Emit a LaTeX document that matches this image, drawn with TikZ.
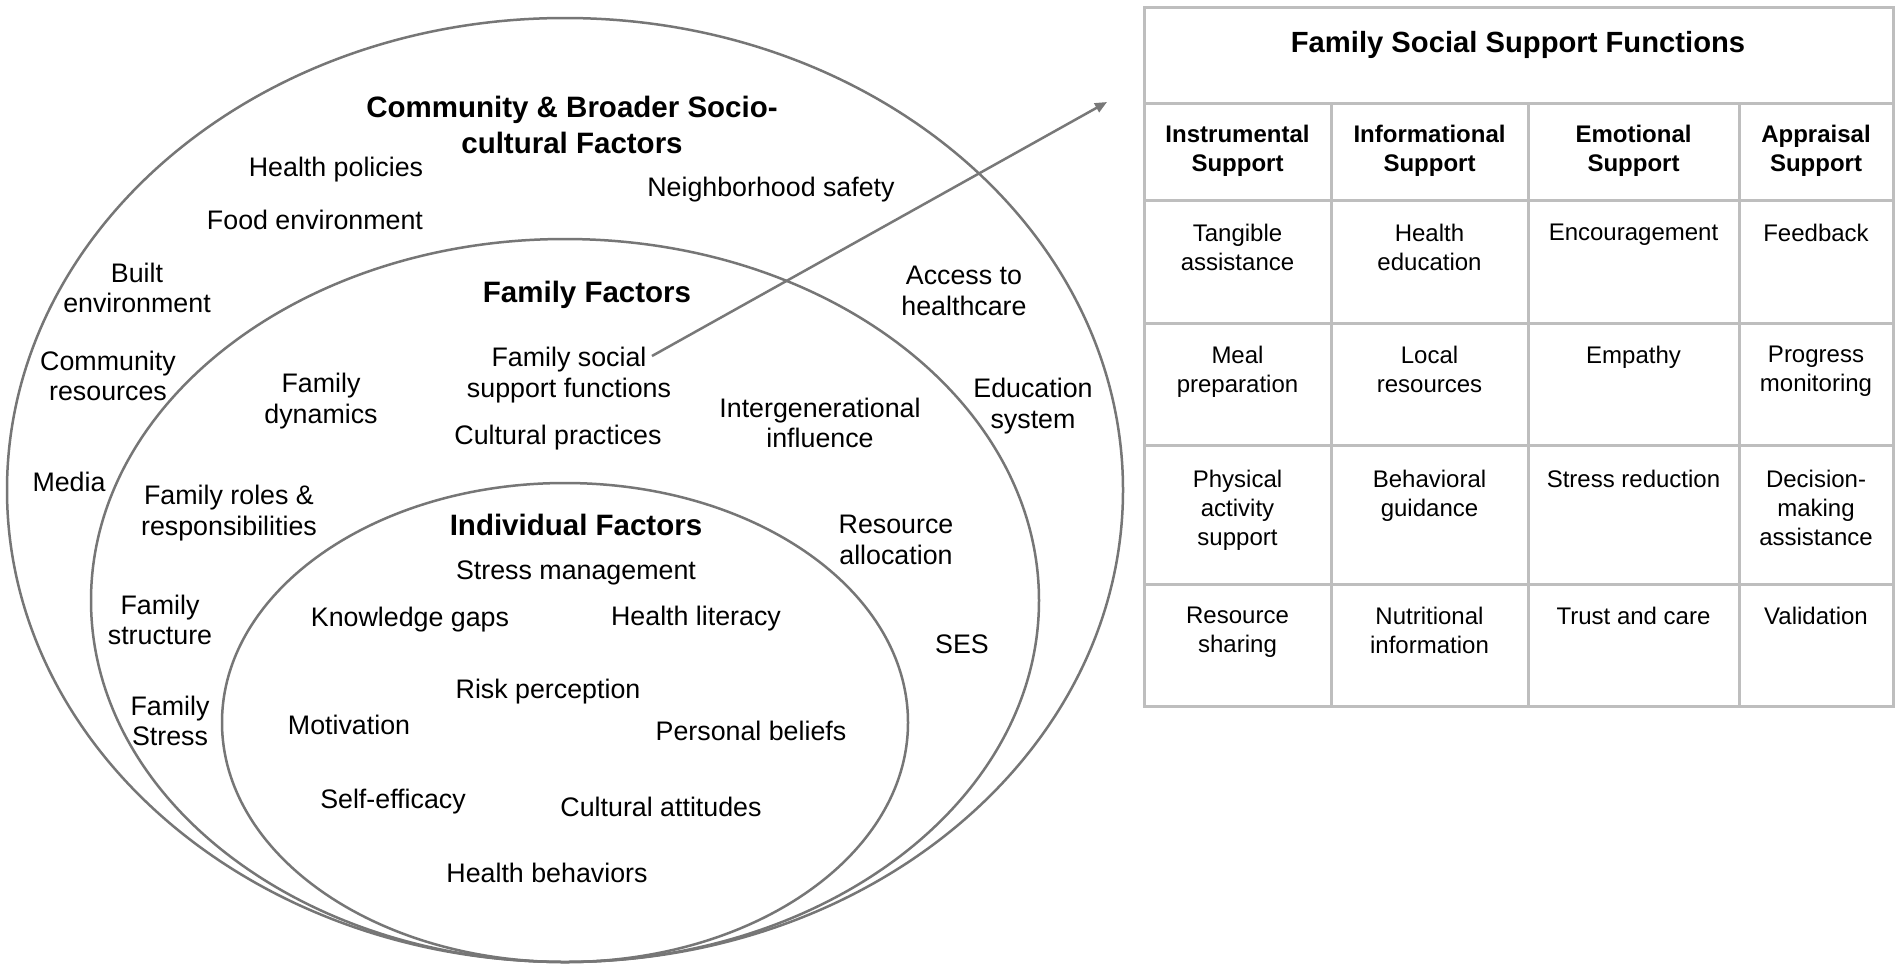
\documentclass[tikz,border=0pt]{standalone}
\usepackage{fontspec}
\setmainfont{Liberation Sans}
\usetikzlibrary{arrows.meta}
\definecolor{ringgray}{RGB}{118,118,118}
\definecolor{gridgray}{RGB}{190,190,190}
\definecolor{arrowgray}{RGB}{120,120,120}
\tikzset{
  lbl/.style={font=\fontsize{13.4}{15.3}\selectfont, align=center, inner sep=0pt},
  ttl/.style={font=\fontsize{14.75}{18}\selectfont\bfseries, align=center, inner sep=0pt},
  tabttl/.style={font=\fontsize{14.6}{18}\selectfont\bfseries, align=center, inner sep=0pt},
  hdr/.style={font=\fontsize{12}{14.5}\selectfont\bfseries, align=center, inner sep=0pt},
  cell/.style={font=\fontsize{12}{14.5}\selectfont, align=center, inner sep=0pt, anchor=north},
  ring/.style={draw=ringgray, line width=1.25pt},
  gridline/.style={draw=gridgray, line width=1.5pt},
  link/.style={draw=arrowgray, line width=1.25pt, -{Triangle[length=6pt,width=5pt]}}
}
\begin{document}
\begin{tikzpicture}[x=0.5pt,y=-0.5pt]
\useasboundingbox (0,0) rectangle (1902,971);
\fill[white] (0,0) rectangle (1902,971);

% rings
\draw[ring] (565,490) ellipse [x radius=279pt, y radius=236pt];
\draw[ring] (565,600.5) ellipse [x radius=237pt, y radius=180.75pt];
\draw[ring] (565,722.5) ellipse [x radius=171.5pt, y radius=119.75pt];

% community level
\node[ttl] (commttl) at (572,125) {Community \& Broader Socio-\\cultural Factors};
\node[lbl] (hp) at (336,170) {Health policies};
\node[lbl] (food) at (315,220) {Food environment};
\node[lbl] (neigh) at (771,190) {Neighborhood safety};
\node[lbl] (built) at (137,288) {Built\\environment};
\node[lbl] (comres) at (108,376) {Community\\resources};
\node[lbl] (media) at (69,482) {Media};
\node[lbl] (access) at (964,291) {Access to\\healthcare};
\node[lbl] (edu) at (1033,406) {Education\\system};
\node[lbl] (ses) at (962,644) {SES};

% family level
\node[ttl] (famttl) at (587,295) {Family Factors};
\node[lbl] (fssf) at (569,375) {Family social\\support functions};
\node[lbl] (cultpr) at (558,438) {Cultural practices};
\node[lbl] (famdyn) at (321,401) {Family\\dynamics};
\node[lbl] (interg) at (820,423) {Intergenerational\\influence};
\node[lbl] (roles) at (229,513) {Family roles \&\\responsibilities};
\node[lbl] (resalloc) at (896,540) {Resource\\allocation};
\node[lbl] (famstruct) at (160,620) {Family\\structure};
\node[lbl] (famstress) at (170,721) {Family\\Stress};

% individual level
\node[ttl] (indttl) at (576,525) {Individual Factors};
\node[lbl] (stressm) at (576,573) {Stress management};
\node[lbl] (knowg) at (410,620) {Knowledge gaps};
\node[lbl] (hlit) at (696,619) {Health literacy};
\node[lbl] (risk) at (548,692) {Risk perception};
\node[lbl] (motiv) at (349,725) {Motivation};
\node[lbl] (pbel) at (751,731) {Personal beliefs};
\node[lbl] (selfe) at (393,802) {Self-efficacy};
\node[lbl] (cultatt) at (661,807) {Cultural attitudes};
\node[lbl] (hbeh) at (547,873) {Health behaviors};

% arrow
\coordinate (astart) at (652,356);
\coordinate (aend) at (1107,102);
\draw[link] (astart) -- (aend);

% table grid
\draw[gridline] (1144,7) rectangle (1893,706);
\foreach \yy in {103,200,323,445,584} \draw[gridline] (1144,\yy) -- (1893,\yy);
\foreach \xx in {1331,1528,1739} \draw[gridline] (\xx,103) -- (\xx,706);

% table text
\node[tabttl] (tabttl) at (1518,45) {Family Social Support Functions};
\node[hdr] (h1) at (1237.5,151) {Instrumental\\Support};
\node[hdr] (h2) at (1429.5,151) {Informational\\Support};
\node[hdr] (h3) at (1633.5,151) {Emotional\\Support};
\node[hdr] (h4) at (1816,151) {Appraisal\\Support};

\node[cell] (c11) at (1237.5,224) {Tangible\\assistance};
\node[cell] (c12) at (1429.5,224) {Health\\education};
\node[cell] (c13) at (1633.5,224) {Encouragement};
\node[cell] (c14) at (1816,224) {Feedback};

\node[cell] (c21) at (1237.5,346) {Meal\\preparation};
\node[cell] (c22) at (1429.5,346) {Local\\resources};
\node[cell] (c23) at (1633.5,346) {Empathy};
\node[cell] (c24) at (1816,346) {Progress\\monitoring};

\node[cell] (c31) at (1237.5,470) {Physical\\activity\\support};
\node[cell] (c32) at (1429.5,470) {Behavioral\\guidance};
\node[cell] (c33) at (1633.5,470) {Stress reduction};
\node[cell] (c34) at (1816,470) {Decision-\\making\\assistance};

\node[cell] (c41) at (1237.5,607) {Resource\\sharing};
\node[cell] (c42) at (1429.5,607) {Nutritional\\information};
\node[cell] (c43) at (1633.5,607) {Trust and care};
\node[cell] (c44) at (1816,607) {Validation};
\end{tikzpicture}
\end{document}
